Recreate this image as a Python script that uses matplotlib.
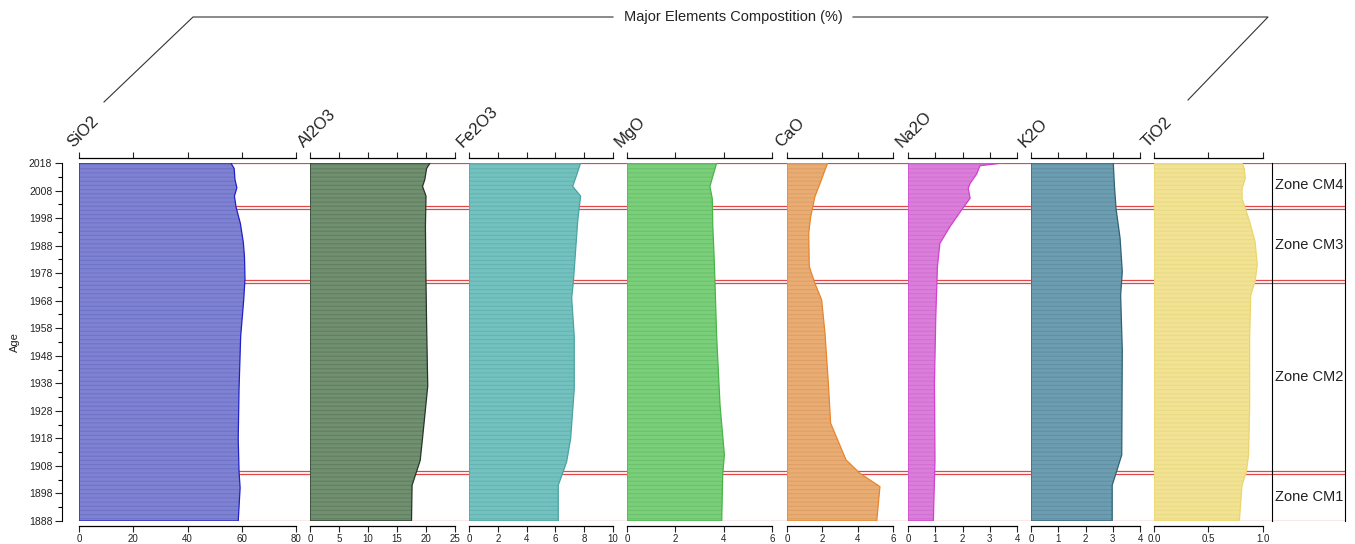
import matplotlib
matplotlib.use("Agg")
import matplotlib.pyplot as plt
from matplotlib.lines import Line2D

plt.rcParams['font.family'] = ['Liberation Sans', 'DejaVu Sans']
plt.rcParams['hatch.linewidth'] = 0.8

# age (year) / concentration (%) profiles for each oxide
sio2_age = [2018, 2016, 2012, 2009, 2006, 2002, 1996, 1989, 1984, 1976, 1968, 1955, 1936, 1918, 1906, 1900, 1888]
sio2 = [56.0, 57.2, 57.5, 58.2, 57.3, 57.9, 59.5, 60.6, 61.0, 61.2, 60.7, 59.6, 59.0, 58.7, 59.0, 59.4, 58.7]

al2o3_age = [2018, 2016, 2012, 2009.5, 2006, 1995, 1975, 1960, 1937, 1918, 1910, 1901, 1888]
al2o3 = [20.7, 20.1, 19.8, 19.4, 20.0, 19.9, 20.0, 20.1, 20.3, 19.4, 19.0, 17.6, 17.5]

fe2o3_age = [2018, 2014, 2009.5, 2006, 1997, 1975, 1969, 1955, 1936, 1918, 1909.5, 1904.5, 1901, 1888]
fe2o3 = [7.75, 7.5, 7.2, 7.75, 7.55, 7.25, 7.13, 7.31, 7.31, 7.06, 6.78, 6.44, 6.2, 6.2]

mgo_age = [2018, 2009.5, 2005, 1995, 1985, 1975, 1955, 1930, 1912, 1905, 1888]
mgo = [3.71, 3.43, 3.53, 3.55, 3.6, 3.64, 3.71, 3.85, 4.03, 3.96, 3.92]

cao_age = [2018, 2010.6, 2005.8, 1998.5, 1992.5, 1980.4, 1974.3, 1968.3, 1956.2, 1938, 1923.5, 1910.2, 1905.3, 1900.5, 1888]
cao = [2.30, 1.87, 1.58, 1.34, 1.23, 1.26, 1.58, 1.96, 2.15, 2.34, 2.47, 3.34, 4.13, 5.26, 5.08]

na2o_age = [2018, 2017, 2014, 2010.6, 2008.8, 2005.2, 2001, 1994.9, 1988.8, 1980.4, 1962.2, 1938, 1910, 1888]
na2o = [3.47, 2.64, 2.52, 2.28, 2.21, 2.28, 1.97, 1.54, 1.17, 1.08, 1.02, 0.97, 0.99, 0.93]

k2o_age = [2018, 2010, 2001.5, 1990.6, 1978.5, 1970, 1950, 1912, 1906, 1901, 1888]
k2o = [3.02, 3.06, 3.12, 3.27, 3.35, 3.29, 3.35, 3.33, 3.14, 2.98, 2.98]

tio2_age = [2018, 2016, 2012.4, 2008.8, 2005, 2001.5, 1996.7, 1989.4, 1981, 1975, 1970, 1955, 1930, 1912, 1906, 1901, 1888]
tio2 = [0.81, 0.83, 0.84, 0.81, 0.81, 0.84, 0.88, 0.93, 0.95, 0.93, 0.89, 0.88, 0.88, 0.87, 0.85, 0.81, 0.785]

names = ["SiO2", "Al2O3", "Fe2O3", "MgO", "CaO", "Na2O", "K2O", "TiO2"]
ticks = [
    [0, 20, 40, 60, 80],
    [0, 5, 10, 15, 20, 25],
    [0, 2, 4, 6, 8, 10],
    [0, 2, 4, 6],
    [0, 2, 4, 6],
    [0, 1, 2, 3, 4],
    [0, 1, 2, 3, 4],
    [0.0, 0.5, 1.0],
]
tick_labels = [
    ["0", "20", "40", "60", "80"],
    ["0", "5", "10", "15", "20", "25"],
    ["0", "2", "4", "6", "8", "10"],
    ["0", "2", "4", "6"],
    ["0", "2", "4", "6"],
    ["0", "1", "2", "3", "4"],
    ["0", "1", "2", "3", "4"],
    ["0.0", "0.5", "1.0"],
]

zone_bounds = [2001.7, 1975.0, 1905.6]
zone_names = ["Zone CM4", "Zone CM3", "Zone CM2", "Zone CM1"]
age_top, age_bottom = 2018, 1888

# panel extents in pixels and colours (fill, stripe, outline)
W, H = 1355, 544
Y0, Y1 = 163, 521
panel_px = [(79, 296), (310, 455), (469, 613), (627, 772),
            (787, 893), (908, 1017), (1031, 1140), (1154, 1262.7)]
fills = ["#7f81d2", "#70906f", "#74c2c0", "#7bcf7a", "#e9ad74", "#db7edb", "#6d9db0", "#f2e293"]
stripes = ["#7074c8", "#627f62", "#66b4b2", "#6cc26c", "#dea066", "#d070d0", "#5f90a4", "#eadb86"]
edges = ["#2121c8", "#27362a", "#4aa4a2", "#48b548", "#e8852c", "#d23fd2", "#2e6375", "#ecd56e"]

profiles = [(sio2_age, sio2), (al2o3_age, al2o3), (fe2o3_age, fe2o3), (mgo_age, mgo),
            (cao_age, cao), (na2o_age, na2o), (k2o_age, k2o), (tio2_age, tio2)]

RED = "#e04848"
TXT = "#222222"


def box(x0, x1, y0=Y0, y1=Y1):
    return [x0 / W, 1 - y1 / H, (x1 - x0) / W, (y1 - y0) / H]


def pt(px):
    return px * 72 / 100


fig = plt.figure(figsize=(W / 100, H / 100), dpi=100)

# background: age axis and zone boundary lines across all columns
bg = fig.add_axes(box(79, 1345))
bg.set_xlim(0, 1)
bg.set_ylim(age_bottom, age_top)
bg.set_xticks([])
bg.set_yticks(range(age_bottom, age_top + 1, 10))
bg.set_yticks(range(age_bottom + 5, age_top, 10), minor=True)
bg.tick_params(axis='y', which='major', length=5, width=0.8, labelsize=7.5, colors=TXT, pad=2)
bg.tick_params(axis='y', which='minor', length=3, width=0.8)
for s in ['top', 'right', 'bottom']:
    bg.spines[s].set_visible(False)
bg.spines['left'].set_position(('outward', pt(17)))
bg.spines['left'].set_linewidth(0.8)
for b in (age_top, age_bottom):
    bg.axhline(b, color=RED, lw=0.9)
for b in zone_bounds:
    bg.axhline(b + 0.55, color=RED, lw=0.9)
    bg.axhline(b - 0.55, color=RED, lw=0.9)

fig.text(15 / W, 1 - 342 / H, "Age", rotation=90, ha='center', va='center', size=8, color=TXT)

for i, (x0, x1) in enumerate(panel_px):
    ax = fig.add_axes(box(x0, x1))
    ax.patch.set_visible(False)
    age, val = profiles[i]
    ax.fill_betweenx(age, 0, val, facecolor=fills[i], edgecolor=stripes[i],
                     hatch='----', linewidth=0, zorder=2)
    ax.fill_betweenx(age, 0, val, facecolor='none', edgecolor=edges[i],
                     linewidth=0.9, zorder=3)
    ax.set_xlim(ticks[i][0], ticks[i][-1])
    ax.set_ylim(age_bottom, age_top)
    ax.set_yticks([])
    ax.set_xticks(ticks[i])
    ax.set_xticklabels(tick_labels[i])
    ax.tick_params(axis='x', top=True, bottom=True, labeltop=False, direction='out',
                   length=4, width=0.8, labelsize=7, colors=TXT, pad=2)
    for s in ['left', 'right']:
        ax.spines[s].set_visible(False)
    for s in ['top', 'bottom']:
        ax.spines[s].set_position(('outward', pt(5)))
        ax.spines[s].set_linewidth(0.9)
    fig.text((x0 - 4) / W, 1 - 150 / H, names[i], rotation=45, rotation_mode='anchor',
             ha='left', va='bottom', size=12, color=TXT)

# zone column
zx = fig.add_axes(box(1272, 1345))
zx.patch.set_visible(False)
zx.set_xlim(0, 1)
zx.set_ylim(age_bottom, age_top)
zx.set_xticks([])
zx.set_yticks([])
for s in ['top', 'bottom']:
    zx.spines[s].set_visible(False)
for s in ['left', 'right']:
    zx.spines[s].set_linewidth(0.8)
edges_z = [age_top] + zone_bounds + [age_bottom]
for k, name in enumerate(zone_names):
    zx.text(0.04, (edges_z[k] + edges_z[k + 1]) / 2, name, ha='left', va='center',
            size=10.5, color=TXT)

# header bracket over the oxide labels
line_kw = dict(transform=fig.transFigure, color="#333333", lw=0.8)
fig.add_artist(Line2D([104 / W, 193 / W, 613 / W], [1 - 102 / H, 1 - 17 / H, 1 - 17 / H], **line_kw))
fig.add_artist(Line2D([853 / W, 1268 / W, 1188 / W], [1 - 17 / H, 1 - 17 / H, 1 - 100 / H], **line_kw))
fig.text(733 / W, 1 - 17 / H, "Major Elements Compostition (%)", ha='center', va='center',
         size=10.5, color=TXT)

fig.savefig("out.png", dpi=100)
